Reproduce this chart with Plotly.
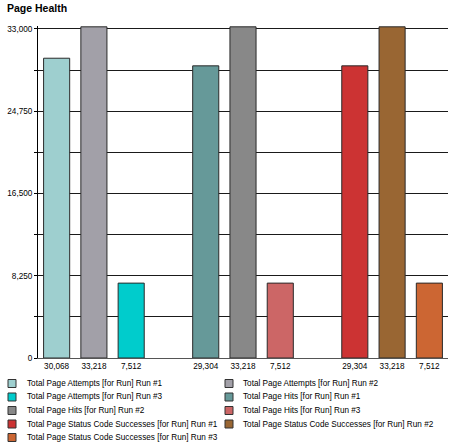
import plotly.graph_objects as go

# ---------------- data ----------------
metrics = ["Total Page Attempts", "Total Page Hits", "Total Page Status Code Successes"]
runs = ["Run #1", "Run #2", "Run #3"]
attempts_values = [30068, 33218, 7512]
hits_values = [29304, 33218, 7512]
status_values = [29304, 33218, 7512]
series_values = [attempts_values, hits_values, status_values]
series_colors = [
    ["#9ECFCF", "#A2A0A8", "#00CCCC"],
    ["#669999", "#888888", "#CC6666"],
    ["#CC3333", "#996633", "#CC6633"],
]
y_tick_values = [0, 4125, 8250, 12375, 16500, 20625, 24750, 28875, 33000]
y_tick_labels = ["0", "", "8,250", "", "16,500", "", "24,750", "", "33,000"]

# ---------------- layout constants ----------------
W, H = 453, 442
L, R, T, B = 38, 5, 26, 84
PW, PH = W - L - R, H - T - B
FONT = "Liberation Sans, Arial, sans-serif"
FS = 8.2

def px2x(px):
    return (px - L) / PW

def py2y(py):
    return (H - B - py) / PH

fig = go.Figure()
names, colors, tickpos, ticktext = [], [], [], []
for g, metric in enumerate(metrics):
    for r, run in enumerate(runs):
        pos = g * (len(runs) + 1) + r
        val = series_values[g][r]
        name = f"{metric} [for Run] {run}"
        col = series_colors[g][r]
        names.append(name)
        colors.append(col)
        tickpos.append(pos)
        ticktext.append(f"{val:,}")
        fig.add_trace(go.Bar(
            x=[pos], y=[val], name=name, width=0.7,
            marker=dict(color=col, line=dict(color="#2a2a2a", width=1)),
            showlegend=False,
        ))

# manual legend (two columns, compact rows like the original)
shapes, annotations = [], []
col_swatch_x = [8, 225]
col_text_x = [25, 241]
row_y0 = 383.5
row_dy = 13.5
for i, (name, col) in enumerate(zip(names, colors)):
    c = i % 2
    rrow = i // 2
    cy = row_y0 + rrow * row_dy
    sx = col_swatch_x[c]
    shapes.append(dict(
        type="rect", xref="paper", yref="paper",
        x0=px2x(sx), x1=px2x(sx + 8), y0=py2y(cy - 4), y1=py2y(cy + 4),
        fillcolor=col, line=dict(color="#333333", width=1),
    ))
    annotations.append(dict(
        xref="paper", yref="paper", x=px2x(col_text_x[c]), y=py2y(cy),
        xanchor="left", yanchor="middle", text=name, showarrow=False,
        font=dict(family=FONT, size=FS, color="#000000"),
    ))

fig.update_layout(
    width=W, height=H,
    margin=dict(l=L, r=R, t=T, b=B, pad=0),
    paper_bgcolor="white", plot_bgcolor="white",
    barmode="overlay",
    title=dict(
        text="<b>Page Health</b>", x=7 / W, xanchor="left",
        y=1 - 8.5 / H, yanchor="middle", yref="container", xref="container",
        font=dict(family=FONT, size=10.5, color="#000000"),
    ),
    font=dict(family=FONT, size=FS, color="#000000"),
    xaxis=dict(
        range=[-0.5, 10.5], tickvals=tickpos, ticktext=ticktext,
        showgrid=False, zeroline=False, showline=True, linecolor="#555555",
        linewidth=1, ticks="", tickfont=dict(family=FONT, size=FS),
        fixedrange=True,
    ),
    yaxis=dict(
        range=[0, 33300], tickvals=y_tick_values, ticktext=y_tick_labels,
        showgrid=True, gridcolor="#1a1a1a", gridwidth=1,
        zeroline=False, showline=True, linecolor="#000000", linewidth=1,
        ticks="outside", ticklen=3, tickcolor="#000000", tickwidth=1,
        tickfont=dict(family=FONT, size=FS), fixedrange=True,
    ),
    shapes=shapes,
    annotations=annotations,
)

fig.write_html(
    "out.html",
    config={"displayModeBar": False},
    post_script="document.body.style.margin='0';document.body.style.padding='0';",
)
